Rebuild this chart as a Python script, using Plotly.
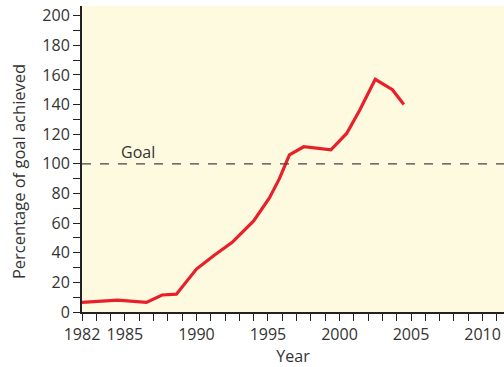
import plotly.graph_objects as go

years = [1982, 1984.5, 1986.5, 1987.6, 1988.6, 1990, 1991.2, 1992.5, 1994, 1995.1,
         1995.8, 1996.5, 1997.5, 1999.4, 2000.5, 2001.4, 2002.5, 2003.7, 2004.5]
percent = [6.5, 8, 6.5, 11.5, 12, 29, 38, 47, 61.5, 77, 90, 106, 111.5, 109.5, 120.5,
           136, 157, 150, 140]
goal = 100

x_tick_vals = list(range(1982, 2012))
x_labels = {1982: "1982", 1985: "1985", 1990: "1990", 1995: "1995",
            2000: "2000", 2005: "2005", 2010: "2010"}
y_tick_vals = list(range(0, 210, 10))

font = "Open Sans, Noto Sans, sans-serif"
txt = "#333333"

fig = go.Figure()
fig.add_trace(go.Scatter(x=years, y=percent, mode="lines",
                         line=dict(color="#E8202A", width=3.2), showlegend=False))
fig.add_shape(type="line", xref="paper", yref="y", x0=0, x1=1, y0=goal, y1=goal,
              line=dict(color="#444444", width=1.2, dash="dash"))
fig.add_annotation(x=1985.9, y=goal, text="Goal", showarrow=False, yanchor="bottom",
                   yshift=-1, font=dict(family=font, size=16, color=txt))
fig.add_annotation(xref="paper", yref="paper", x=-0.152, y=0.46,
                   text="Percentage of goal achieved", textangle=-90, showarrow=False,
                   xanchor="center", yanchor="middle",
                   font=dict(family=font, size=16.5, color=txt))

fig.update_layout(
    width=504, height=367,
    margin=dict(l=82, r=0, t=6, b=55, autoexpand=False),
    paper_bgcolor="white",
    plot_bgcolor="#FEFAE0",
    font=dict(family=font, size=16, color=txt),
    xaxis=dict(range=[1982, 2011.5], tickvals=x_tick_vals,
               ticktext=[x_labels.get(v, "") for v in x_tick_vals],
               ticks="outside", ticklen=7, tickwidth=1.2, tickcolor="#222",
               showline=True, linecolor="#222", linewidth=2, showgrid=False,
               zeroline=False, automargin=False,
               title=dict(text="Year", font=dict(size=16), standoff=5),
               tickfont=dict(size=16, color=txt)),
    yaxis=dict(range=[0, 206.5], tickvals=y_tick_vals,
               ticktext=[str(v) if v % 20 == 0 else "" for v in y_tick_vals],
               ticks="outside", ticklen=7, tickwidth=1.2, tickcolor="#222",
               showline=True, linecolor="#222", linewidth=2, showgrid=False,
               zeroline=False, automargin=False,
               tickfont=dict(size=16, color=txt)),
)

fig.write_html("out.html", config={"displayModeBar": False},
               post_script="document.body.style.margin='0px';")
